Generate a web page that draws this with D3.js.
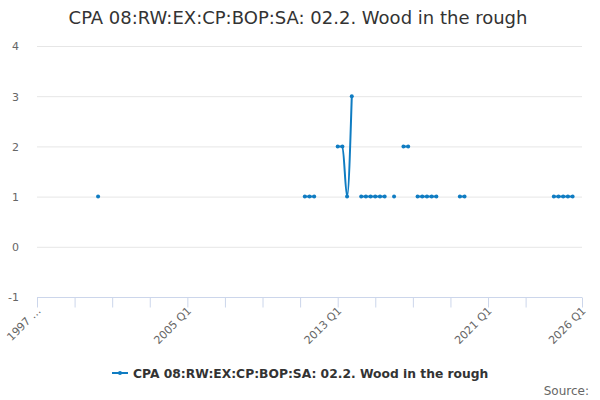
<!DOCTYPE html>
<html>
<head>
<meta charset="utf-8">
<script src="https://cdn.jsdelivr.net/npm/d3@7"></script>
<style>
  html, body { margin: 0; padding: 0; background: #fff; }
  svg { display: block; font-family: "DejaVu Sans", sans-serif; }
</style>
</head>
<body>
<svg id="chart" width="600" height="400"></svg>
<script>
(function () {
// ---- Data ----
const title = "CPA 08:RW:EX:CP:BOP:SA: 02.2. Wood in the rough";
const seriesName = "CPA 08:RW:EX:CP:BOP:SA: 02.2. Wood in the rough";
const startYear = 1997;
const endYear = 2026;
// quarterly categories 1997 Q1 .. 2026 Q1
const categories = [];
for (let yr = startYear; yr <= endYear; yr++) {
  for (let q = 1; q <= 4; q++) {
    if (yr === endYear && q > 1) break;
    categories.push(yr + " Q" + q);
  }
}
// known observations (all others are missing)
const obsQuarters = [
  "2000 Q2",
  "2011 Q2", "2011 Q3", "2011 Q4",
  "2013 Q1", "2013 Q2", "2013 Q3", "2013 Q4",
  "2014 Q2", "2014 Q3", "2014 Q4", "2015 Q1", "2015 Q2", "2015 Q3",
  "2016 Q1",
  "2016 Q3", "2016 Q4",
  "2017 Q2", "2017 Q3", "2017 Q4", "2018 Q1", "2018 Q2",
  "2019 Q3", "2019 Q4",
  "2024 Q3", "2024 Q4", "2025 Q1", "2025 Q2", "2025 Q3"
];
const obsValues = [
  1,
  1, 1, 1,
  2, 2, 1, 3,
  1, 1, 1, 1, 1, 1,
  1,
  2, 2,
  1, 1, 1, 1, 1,
  1, 1,
  1, 1, 1, 1, 1
];
const yTicks = [-1, 0, 1, 2, 3, 4];
const xTickCats = ["1997 Q1","1999 Q1","2001 Q1","2003 Q1","2005 Q1","2007 Q1","2009 Q1","2011 Q1","2013 Q1","2015 Q1","2017 Q1","2019 Q1","2021 Q1","2023 Q1","2026 Q1"];
const xLabelCats = ["1997 Q1", "2005 Q1", "2013 Q1", "2021 Q1", "2026 Q1"];
const xLabelText = {"1997 Q1": "1997 …"};

const valueMap = new Map(obsQuarters.map((q, i) => [q, obsValues[i]]));
const data = categories.map(c => ({cat: c, v: valueMap.has(c) ? valueMap.get(c) : null}));

// ---- Layout ----
const svg = d3.select("#chart");
const mLeft = 37, mRight = 582, mTop = 46, mBottom = 297;
const color = "#0f7cc2";

const x = d3.scalePoint().domain(categories).range([mLeft, mRight]);
const y = d3.scaleLinear().domain([-1, 4]).range([mBottom, mTop]);

// Title
svg.append("text")
  .attr("x", 298).attr("y", 24)
  .attr("text-anchor", "middle")
  .attr("fill", "#333333")
  .style("font-size", "18px")
  .text(title);

// Gridlines
svg.append("g").selectAll("line")
  .data(yTicks.filter(t => t !== -1))
  .join("line")
  .attr("x1", mLeft).attr("x2", mRight)
  .attr("y1", d => y(d) + 0.5).attr("y2", d => y(d) + 0.5)
  .attr("stroke", "#e6e6e6").attr("stroke-width", 1);

// Y axis labels
const yAxis = d3.axisLeft(y).tickValues(yTicks).tickSize(0).tickPadding(0).tickFormat(d => String(d));
const gy = svg.append("g").attr("transform", `translate(${mLeft - 18},0)`).call(yAxis);
gy.select(".domain").remove();
gy.selectAll("text").attr("fill", "#666666").style("font-size", "11px").style("font-family", "DejaVu Sans, sans-serif").attr("dy", "0.35em");

// X axis
const xAxis = d3.axisBottom(x).tickValues(xTickCats).tickSize(10).tickFormat(d => xLabelCats.includes(d) ? (xLabelText[d] || d) : "");
const gx = svg.append("g").attr("transform", `translate(0,${mBottom + 0.5})`).call(xAxis);
gx.select(".domain").attr("stroke", "#ccd6eb").attr("d", `M${mLeft},0H${mRight}`);
gx.selectAll(".tick line").attr("stroke", "#ccd6eb");
gx.selectAll(".tick text")
  .attr("fill", "#666666")
  .style("font-size", "11px")
  .style("font-family", "DejaVu Sans, sans-serif")
  .attr("text-anchor", "end")
  .attr("dy", null)
  .attr("transform", "translate(4,14) rotate(-45)")
  .attr("y", 0).attr("x", 0);

// Line
const line = d3.line()
  .defined(d => d.v !== null)
  .x(d => x(d.cat))
  .y(d => y(d.v))
  .curve(d3.curveMonotoneX);
svg.append("path")
  .datum(data)
  .attr("fill", "none")
  .attr("stroke", color)
  .attr("stroke-width", 2)
  .attr("d", line);

// Markers
svg.append("g").selectAll("circle")
  .data(data.filter(d => d.v !== null))
  .join("circle")
  .attr("cx", d => x(d.cat))
  .attr("cy", d => y(d.v))
  .attr("r", 2)
  .attr("fill", color);

// Legend
const lg = svg.append("g");
lg.append("line").attr("x1", 112).attr("x2", 128).attr("y1", 373).attr("y2", 373)
  .attr("stroke", color).attr("stroke-width", 2);
lg.append("circle").attr("cx", 120).attr("cy", 373).attr("r", 2).attr("fill", color);
lg.append("text").attr("x", 133).attr("y", 377.5)
  .attr("fill", "#333333").style("font-size", "12.3px").style("font-weight", "bold")
  .text(seriesName);

// Source
svg.append("text").attr("x", 589).attr("y", 395)
  .attr("text-anchor", "end").attr("fill", "#666666").style("font-size", "12px")
  .text("Source:");
})();
</script>
</body>
</html>
